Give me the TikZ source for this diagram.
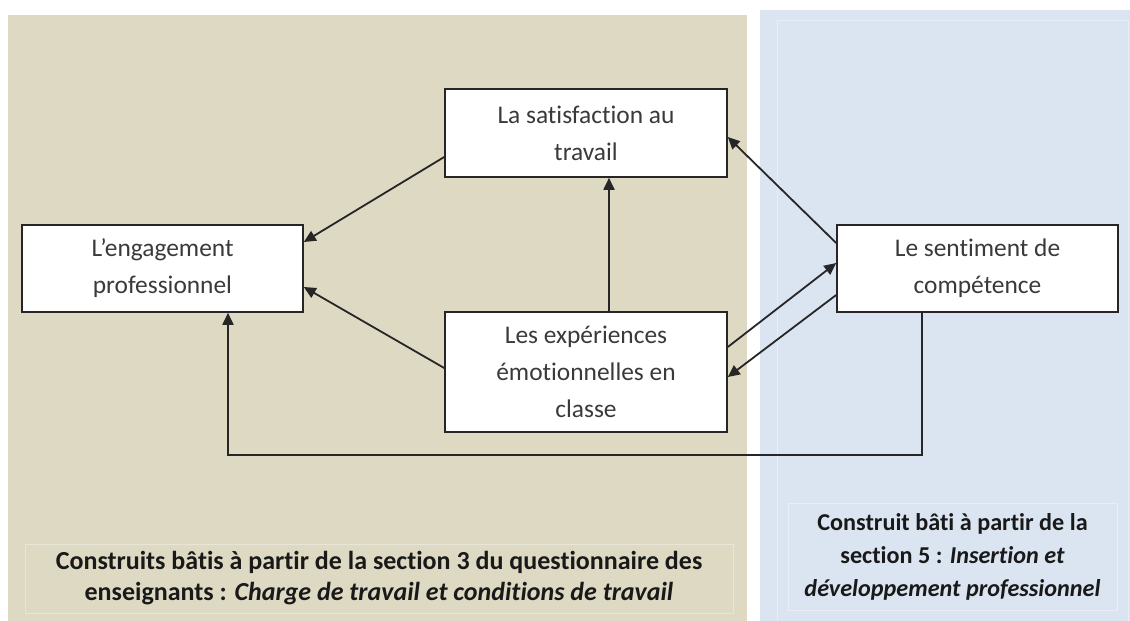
\documentclass[tikz,border=0pt]{standalone}
\usepackage{fontspec}
\setmainfont{Carlito}[Ligatures=NoCommon]
\usetikzlibrary{arrows.meta}
\definecolor{beige}{HTML}{DDD9C3}
\definecolor{beigeline}{HTML}{E9E6D8}
\definecolor{bluebg}{HTML}{DBE5F1}
\definecolor{blueline}{HTML}{E8EEF7}
\definecolor{boxtext}{HTML}{3A3A3A}
\definecolor{linec}{HTML}{262626}
\tikzset{
  concept/.style={draw=linec, line width=1.6pt, fill=white, text=boxtext,
    font=\fontsize{25.4}{37}\selectfont, align=center, inner sep=0pt},
  arr/.style={draw=linec, line width=1.8pt, -{Triangle[length=12pt,width=11pt]}},
  caption/.style n args={3}{draw=#1, line width=0.8pt, align=center, inner sep=0pt,
    text=black!90, font=\bfseries\fontsize{#2}{#3}\selectfont}
}
\begin{document}
\begin{tikzpicture}[x=1pt,y=-1pt]
\useasboundingbox (0,0) rectangle (1130,621);
% panels
\fill[beige] (8,15) rectangle (747,621);
\fill[bluebg] (760,10) rectangle (1130,621);
\draw[blueline, line width=0.8pt] (777,20) rectangle (1128,621);
% concept boxes
\node[concept, minimum width=281pt, minimum height=87pt] (eng) at (162.5,268.5) {L’engagement\\professionnel};
\node[concept, minimum width=282pt, minimum height=88pt] (sat) at (586,133) {La satisfaction au\\travail};
\node[concept, minimum width=282pt, minimum height=120pt] (exp) at (586,372) {Les expériences\\émotionnelles en\\classe};
\node[concept, minimum width=281pt, minimum height=87pt] (sen) at (977.5,268.5) {Le sentiment de\\compétence};
% connectors
\draw[arr] ([yshift=-24pt]sat.west) -- ([yshift=26.5pt]eng.east);
\draw[arr] ([yshift=4pt]exp.west) -- ([yshift=-18.5pt]eng.east);
\draw[arr] ([xshift=23pt]exp.north) -- ([xshift=23pt]sat.south);
\draw[arr] ([yshift=25.5pt]sen.west) -- ([yshift=-4pt]sat.east);
\draw[arr] ([yshift=25pt]exp.east) -- ([yshift=5.5pt]sen.west);
\draw[arr] ([yshift=-26.5pt]sen.west) -- ([yshift=-5pt]exp.east);
\coordinate (loop) at (228,455);
\draw[arr] ([xshift=-55.5pt]sen.south) |- (loop) -- ([xshift=65.5pt]eng.south);
% captions
\node[caption={beigeline}{26}{31}, minimum width=708pt, minimum height=69pt] (capL) at (379,578.5)
  {Construits bâtis à partir de la section 3 du questionnaire des\\enseignants : \textit{Charge de travail et conditions de travail}};
\node[caption={blueline}{24.2}{33}, minimum width=329pt, minimum height=107pt] (capR) at (952.5,557)
  {Construit bâti à partir de la\\section 5 : \textit{Insertion et}\\\textit{développement professionnel}};
\end{tikzpicture}
\end{document}
